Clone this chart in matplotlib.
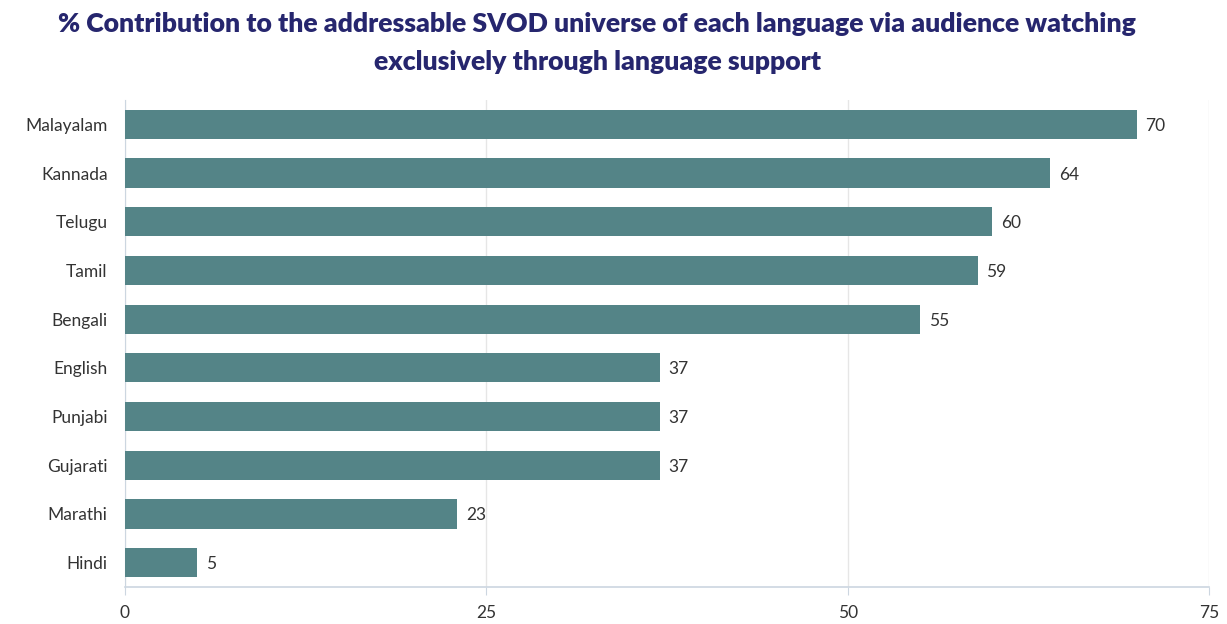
import matplotlib
matplotlib.use("Agg")
import matplotlib.pyplot as plt

languages = ["Hindi", "Marathi", "Gujarati", "Punjabi", "English", "Bengali", "Tamil", "Telugu", "Kannada", "Malayalam"]
values = [5, 23, 37, 37, 37, 55, 59, 60, 64, 70]
xticks = [0, 25, 50, 75]

title = "% Contribution to the addressable SVOD universe of each language via audience watching\nexclusively through language support"

plt.rcParams['font.family'] = ['Lato', 'DejaVu Sans']

fig = plt.figure(figsize=(12.27, 6.24), dpi=100)
ax = fig.add_axes([125/1227, 1-587/624, (1209-125)/1227, 487/624])

bar_color = "#548487"
ypos = list(range(len(languages)))
ax.barh(ypos, values, height=0.6, color=bar_color, zorder=3)
for y, v in zip(ypos, values):
    ax.text(v + 0.6, y, f"{v}", va="center_baseline", ha="left", fontsize=12.5, color="#333333")

ax.set_xlim(0, 75)
ax.set_ylim(-0.5, len(languages) - 0.5)
ax.set_xticks(xticks)
ax.set_xticklabels([str(t) for t in xticks], fontsize=12.5, color="#333333")
ax.set_yticks(ypos)
ax.set_yticklabels(languages, fontsize=12.5, color="#333333")
ax.tick_params(axis="y", length=0, pad=12.5)
ax.tick_params(axis="x", length=6, color="#ccd6e0", pad=7)

ax.grid(axis="x", color="#e6e6e6", linewidth=1, zorder=0)
for s in ["top", "right"]:
    ax.spines[s].set_visible(False)
ax.spines["left"].set_color("#ccd6e0")
ax.spines["bottom"].set_color("#ccd6e0")
ax.spines["bottom"].set_linewidth(1.2)

fig.text(597/1227, 1-43/624, title, ha="center", va="center", fontsize=19.2, fontweight="heavy",
         color="#26266e", linespacing=1.75)

fig.savefig("out.png", dpi=100)
